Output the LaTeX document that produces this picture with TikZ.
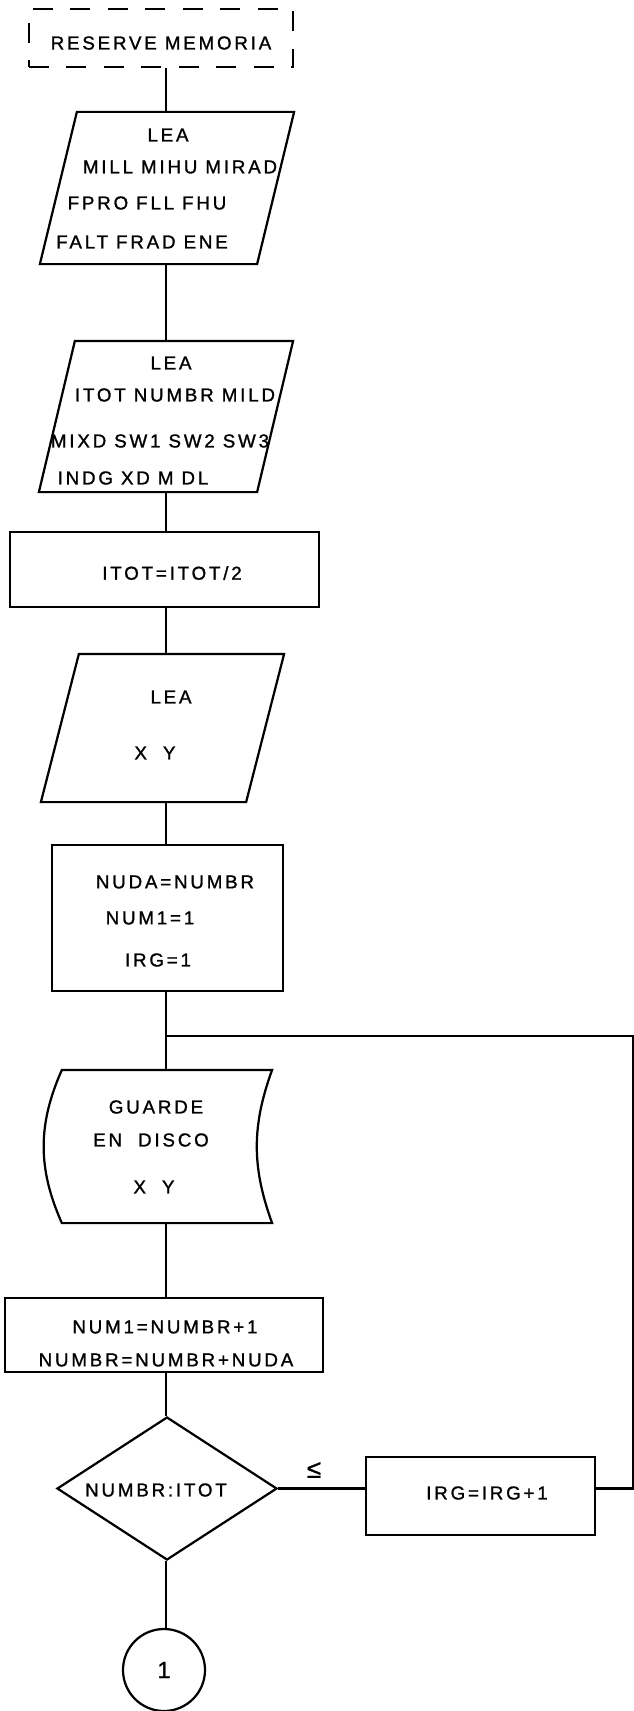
\documentclass[tikz,border=0pt]{standalone}
\usepackage{fontspec}
\usepackage{tikz}
\usetikzlibrary{calc}
\usetikzlibrary{shapes.geometric}
\newfontfamily\stencil[LetterSpace=15,FakeBold=1.2]{Liberation Sans}
\tikzset{
 lbl/.style = {font=\stencil\fontsize{16}{19}\selectfont, inner sep=0},
 box/.style = {draw, rectangle, inner sep=0},
 io/.style = {rectangle, inner sep=0},
}

\begin{document}
\begin{tikzpicture}[x=0.03cm, y=-0.03cm, line width=1.9pt]
\useasboundingbox (0,0) rectangle (633,1711);
\coordinate (spine) at (166,0);

% shapes
\node[box, dash pattern=on 17pt off 15pt, minimum width=7.92cm, minimum height=1.74cm] (reserve) at (161,38) {};
\node[io, minimum width=7.56cm, minimum height=4.5cm] (leaA) at (167,188) {};
\node[io, minimum width=7.56cm, minimum height=4.47cm] (leaB) at (166,416.5) {};
\node[box, minimum width=9.27cm, minimum height=2.25cm] (itot) at (164.5,569.5) {};
\node[io, minimum width=7.23cm, minimum height=4.38cm] (leaC) at (162.5,728) {};
\foreach \n/\d in {leaA/37, leaB/36, leaC/38}
  \draw (\n.south west) -- ($(\n.north west)+(\d,0)$) -- (\n.north east) -- ($(\n.south east)-(\d,0)$) -- cycle;
\node[box, minimum width=6.93cm, minimum height=4.38cm] (nuda) at (167.5,918) {};
\node[minimum width=6.24cm, minimum height=4.53cm, inner sep=0] (guarde) at (167,1146.5) {};
\draw (guarde.north west) to[bend right=24] (guarde.south west) -- (guarde.south east)
  to[bend left=20] (guarde.north east) -- cycle;
\node[box, minimum width=9.54cm, minimum height=2.22cm] (numA) at (164,1335) {};
\node[draw, diamond, minimum width=6.6cm, minimum height=4.29cm, inner sep=0] (cmp) at (167,1488.5) {};
\node[box, minimum width=6.87cm, minimum height=2.34cm] (irg) at (480.5,1496) {};
\node[draw, circle, minimum size=2.46cm, inner sep=0, lbl, font=\stencil\fontsize{20}{24}\selectfont] (con) at (164,1670) {1};

% texts
\node[lbl] (reserveT) at (161,43) {RESERVE MEMORIA};
\node[lbl] (leaA1) at (168,135) {LEA};
\node[lbl] (leaA2) at (180,167) {MILL MIHU MIRAD};
\node[lbl] (leaA3) at (147,203) {FPRO FLL FHU};
\node[lbl] (leaA4) at (142,242) {FALT FRAD ENE};
\node[lbl] (leaB1) at (171,363) {LEA};
\node[lbl] (leaB2) at (175,395) {ITOT NUMBR MILD};
\node[lbl] (leaB3) at (160,441) {MIXD SW1 SW2 SW3};
\node[lbl] (leaB4) at (133,478) {INDG XD M DL};
\node[lbl] (itotT) at (172,573) {ITOT=ITOT/2};
\node[lbl] (leaC1) at (171,697) {LEA};
\node[lbl] (leaC2) at (155,753) {X \ Y};
\node[lbl] (nuda1) at (175,882) {NUDA=NUMBR};
\node[lbl] (nuda2) at (150,918) {NUM1=1};
\node[lbl] (nuda3) at (158,960) {IRG=1};
\node[lbl] (guarde1) at (156,1107) {GUARDE};
\node[lbl] (guarde2) at (151,1140) {EN \ DISCO};
\node[lbl] (guarde3) at (154,1187) {X \ Y};
\node[lbl] (numA1) at (165,1327) {NUM1=NUMBR+1};
\node[lbl] (numA2) at (166,1360) {NUMBR=NUMBR+NUDA};
\node[lbl] (cmpT) at (156,1490) {NUMBR:ITOT};
\node[lbl] (irgT) at (487,1493) {IRG=IRG+1};
\node[lbl, font=\stencil\fontsize{22}{26}\selectfont] (le) at (314,1470) {≤};

% connectors
\foreach \a/\b in {reserve/leaA, leaA/leaB, leaB/itot, itot/leaC, leaC/nuda, guarde/numA, numA/cmp, cmp/con}
  \draw (\a.south -| spine) -- (\b.north -| spine);
\coordinate (loop) at (166,1036);
\coordinate (back) at (633,1036);
\draw (nuda.south -| spine) -- (guarde.north -| spine);
\draw (cmp.east) -- (cmp.east -| irg.west);
\draw (irg.east |- cmp.east) -- (back |- cmp.east) -- (back) -- (loop);
\end{tikzpicture}
\end{document}
